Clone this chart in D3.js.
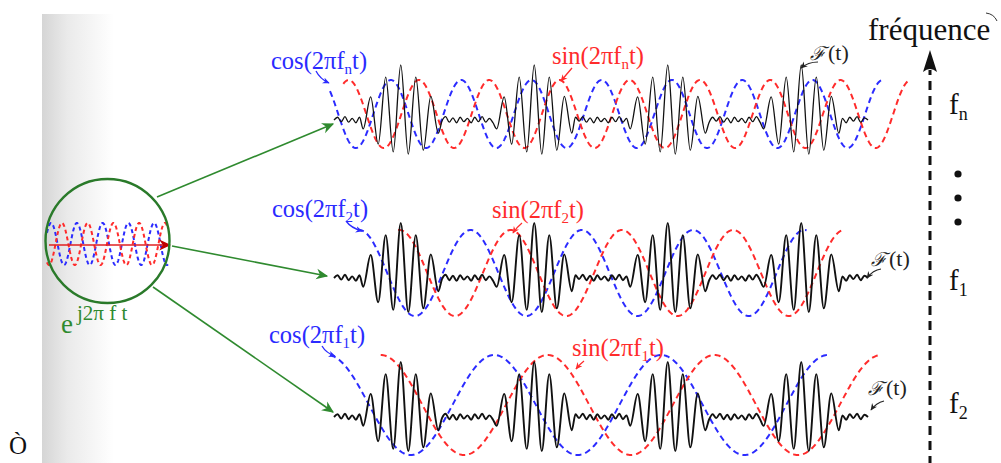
<!DOCTYPE html>
<html><head><meta charset="utf-8">
<script src="https://cdn.jsdelivr.net/npm/d3@7"></script>
<style>body{margin:0;background:#fff} svg{display:block}</style>
</head><body>
<script>
// ---------------- data ----------------
const rowSubs     = ["n", "2", "1"];            // subscript in the cos/sin labels, top -> bottom
const rowFreqs    = [1.9, 1.2, 0.8];            // carrier frequency (cycles per time unit)
const cosCrestT   = [-0.10, 0.19, 1.20];        // time of a cos crest
const sinLagT     = [0.21, 0.30, 0.40];         // lag of the sin crest behind the cos crest
const cosSpans    = [[-0.03, 4.12], [0.18, 3.54], [-0.03, 3.70]];
const sinSpans    = [[0.07, 4.30], [0.48, 3.80], [0.35, 4.10]];
const signalSpan  = [0, 4];
const burstTimes  = [0.5, 1.5, 2.5, 3.5];
const burstExtrema = [-0.16, 0.42, -0.44, 0.78, -0.58, 1.00, -0.62, 0.78, -0.55, 0.43, -0.24];
const rippleExtrema = [0.05, -0.03, 0.06, -0.04, 0.03, -0.05, 0.05, -0.02, 0.06, -0.04, 0.04, -0.05, 0.05, -0.03, 0.03, -0.05];
const innerCycles = [0, 4.7];                   // the small e^{j2πft} picture
const innerCosCrest = 0.16, innerSinLag = 0.42;
const axisLabels  = ["n", "1", "2"];            // right-hand frequency axis, top -> bottom
const axisTitle   = "fréquence";
const signalName  = "ℱ";

// ---------------- layout ----------------
const W = 1001, H = 463;
const BLUE = "#2b2bff", RED = "#ff2b2b", GREEN = "#2f8a2f", DGREEN = "#2a7a2a";
const serif = "'Liberation Serif','Times New Roman',serif";
const rows = [
  {base: 120, mid: 114, amp: 34, fw: 1.3,
   cos: [271, 69], sin: [552, 64], sig: [810, 60],
   cosArr: [[316,71],[320,79],[329,83]], sinArr: [[572,68],[566,75],[561,81]], sigArr: [[818,62],[808,62],[801,68]]},
  {base: 278, mid: 273, amp: 43, fw: 1.9,
   cos: [272, 217], sin: [492, 218], sig: [871, 266],
   cosArr: [[346,221],[351,228],[362,231]], sinArr: [[522,223],[517,227],[513,233]], sigArr: [[881,269],[873,270],[867,278]]},
  {base: 417, mid: 405, amp: 50, fw: 1.9,
   cos: [269, 343], sin: [572, 356], sig: [868, 395],
   cosArr: [[322,346],[326,353],[335,356]], sinArr: [[584,361],[580,364],[576,369]], sigArr: [[884,401],[876,403],[871,410]]}
];

const svg = d3.select("body").append("svg").attr("width", W).attr("height", H);
const defs = svg.append("defs");

const gr = defs.append("linearGradient").attr("id", "band").attr("x1", 0).attr("x2", 1);
gr.append("stop").attr("offset", 0).attr("stop-color", "#d5d5d5");
gr.append("stop").attr("offset", 0.35).attr("stop-color", "#eaeaea");
gr.append("stop").attr("offset", 1).attr("stop-color", "#ffffff");
svg.append("rect").attr("x", 42).attr("y", 14).attr("width", 72).attr("height", H - 14).attr("fill", "url(#band)");

function marker(id, color, size) {
  defs.append("marker").attr("id", id).attr("viewBox", "0 0 10 10")
    .attr("refX", 9).attr("refY", 5).attr("markerWidth", size).attr("markerHeight", size)
    .attr("markerUnits", "userSpaceOnUse").attr("orient", "auto")
    .append("path").attr("d", "M0,0.5 L10,5 L0,9.5 L3,5 Z").attr("fill", color);
}
marker("mGreen", GREEN, 12);
marker("mRed", "#c00000", 12);
marker("mBlue", BLUE, 7);
marker("mRedS", RED, 7);
marker("mBlack", "#222", 7);

// ---------------- signal F(t) points ----------------
function buildSignal() {
  const s = 0.0563, r = 0.028, half = (burstExtrema.length - 1) / 2;
  const pts = [[signalSpan[0], 0]];
  let ri = 0, prev = signalSpan[0];
  const ripple = (a, b) => {
    const n = Math.max(0, Math.round((b - a) / r) - 1), st = (b - a) / (n + 1);
    for (let i = 1; i <= n; i++) pts.push([a + i * st, rippleExtrema[ri++ % rippleExtrema.length]]);
  };
  burstTimes.forEach(c => {
    const a = c - half * s;
    ripple(prev, a);
    burstExtrema.forEach((v, k) => pts.push([a + k * s, v]));
    prev = c + half * s;
  });
  ripple(prev, signalSpan[1]);
  pts.push([signalSpan[1], 0]);
  return pts;
}
const signal = buildSignal();

const x = d3.scaleLinear().domain(signalSpan).range([334, 868]);

rows.forEach((R, i) => {
  const yF = d3.scaleLinear().domain([-1, 1]).range([R.base + 55, R.base - 55]);
  const yD = d3.scaleLinear().domain([-1, 1]).range([R.mid + R.amp, R.mid - R.amp]);
  const f = rowFreqs[i];
  const wave = (span, crest) => d3.range(span[0], span[1] + 1e-9, 0.004)
      .map(t => [t, Math.cos(2 * Math.PI * f * (t - crest))]);
  const dl = d3.line().x(d => x(d[0])).y(d => yD(d[1]));
  svg.append("path").attr("d", dl(wave(cosSpans[i], cosCrestT[i])))
    .attr("fill", "none").attr("stroke", BLUE).attr("stroke-width", 2).attr("stroke-dasharray", "6,4");
  svg.append("path").attr("d", dl(wave(sinSpans[i], cosCrestT[i] + sinLagT[i])))
    .attr("fill", "none").attr("stroke", RED).attr("stroke-width", 2).attr("stroke-dasharray", "6,4");
  const sl = d3.line().x(d => x(d[0])).y(d => yF(d[1])).curve(d3.curveMonotoneX);
  svg.append("path").attr("d", sl(signal)).attr("fill", "none").attr("stroke", "#111")
    .attr("stroke-width", R.fw).attr("stroke-linejoin", "round");

  // labels
  const lab = (pos, color, fn, sub) => {
    const t = svg.append("text").attr("x", pos[0]).attr("y", pos[1]).attr("fill", color)
      .attr("font-family", serif).attr("font-size", 24.5);
    t.append("tspan").text(fn + "(2πf");
    t.append("tspan").attr("font-size", 15).attr("dy", 5).text(sub);
    t.append("tspan").attr("dy", -5).text("t)");
  };
  lab(R.cos, BLUE, "cos", rowSubs[i]);
  lab(R.sin, RED, "sin", rowSubs[i]);
  const st = svg.append("text").attr("x", R.sig[0]).attr("y", R.sig[1]).attr("fill", "#222")
    .attr("font-family", serif).attr("font-size", 22);
  st.append("tspan").attr("font-family", "'DejaVu Serif',serif").attr("font-style", "italic").attr("font-size", 19).text(signalName);
  st.append("tspan").attr("dx", 2).text("(t)");
  const q = p => `M${p[0][0]},${p[0][1]} Q${p[1][0]},${p[1][1]} ${p[2][0]},${p[2][1]}`;
  svg.append("path").attr("d", q(R.cosArr)).attr("fill", "none").attr("stroke", BLUE).attr("stroke-width", 1.3).attr("marker-end", "url(#mBlue)");
  svg.append("path").attr("d", q(R.sinArr)).attr("fill", "none").attr("stroke", RED).attr("stroke-width", 1.3).attr("marker-end", "url(#mRedS)");
  svg.append("path").attr("d", q(R.sigArr)).attr("fill", "none").attr("stroke", "#222").attr("stroke-width", 1.1).attr("marker-end", "url(#mBlack)");
});

// ---------------- e^{j2πft} circle ----------------
const cx = 107.5, cy = 241, cr = 62;
const xi = d3.scaleLinear().domain(innerCycles).range([47, 168]);
const yi = d3.scaleLinear().domain([-1, 1]).range([265, 223]);
const il = d3.line().x(d => xi(d[0])).y(d => yi(d[1]));
const innerWave = crest => d3.range(innerCycles[0], innerCycles[1] + 1e-9, 0.01)
  .map(u => [u, Math.cos(2 * Math.PI * (u - crest))]);
svg.append("path").attr("d", il(innerWave(innerCosCrest))).attr("fill", "none").attr("stroke", BLUE)
  .attr("stroke-width", 2).attr("stroke-dasharray", "4,3");
svg.append("path").attr("d", il(innerWave(innerCosCrest + innerSinLag))).attr("fill", "none").attr("stroke", RED)
  .attr("stroke-width", 2).attr("stroke-dasharray", "4,3");
svg.append("line").attr("x1", 49).attr("y1", 245).attr("x2", 170).attr("y2", 245)
  .attr("stroke", "#e02020").attr("stroke-width", 1.6).attr("marker-end", "url(#mRed)");
svg.append("circle").attr("cx", cx).attr("cy", cy).attr("r", cr).attr("fill", "none")
  .attr("stroke", DGREEN).attr("stroke-width", 2.4);
const et = svg.append("text").attr("x", 61).attr("y", 333).attr("fill", GREEN).attr("font-family", serif).attr("font-size", 27);
et.append("tspan").text("e");
et.append("tspan").attr("dx", 4).attr("dy", -13).attr("font-size", 21).text("j2π f t");

// green arrows to each row
[[[157, 197], [333, 124]], [[172, 246], [327, 276]], [[153, 287], [333, 412]]].forEach(s => {
  svg.append("line").attr("x1", s[0][0]).attr("y1", s[0][1]).attr("x2", s[1][0]).attr("y2", s[1][1])
    .attr("stroke", GREEN).attr("stroke-width", 1.6).attr("marker-end", "url(#mGreen)");
});

// ---------------- frequency axis ----------------
svg.append("line").attr("x1", 930).attr("y1", H + 2).attr("x2", 930).attr("y2", 70)
  .attr("stroke", "#111").attr("stroke-width", 3).attr("stroke-dasharray", "9,6");
svg.append("path").attr("d", "M930,50 L937,72 Q930,66 923,72 Z").attr("fill", "#111");
svg.append("text").attr("x", 868).attr("y", 40).attr("font-family", serif).attr("font-size", 31)
  .attr("fill", "#111").text(axisTitle);
svg.append("path").attr("d", "M986,13 Q994,14 997,21").attr("fill", "none").attr("stroke", "#333").attr("stroke-width", 1);
const axisY = [114, 290, 413];
axisLabels.forEach((s, i) => {
  const t = svg.append("text").attr("x", 949).attr("y", axisY[i]).attr("font-family", serif)
    .attr("font-size", 29).attr("fill", "#111");
  t.append("tspan").text("f");
  t.append("tspan").attr("font-size", 18).attr("dy", 6).text(s);
});
[174, 198, 222].forEach(y => svg.append("circle").attr("cx", 958).attr("cy", y).attr("r", 3.6).attr("fill", "#111"));

svg.append("text").attr("x", 9).attr("y", 454).attr("font-family", serif).attr("font-size", 25).attr("fill", "#111").text("Ò");
</script>
</body></html>
